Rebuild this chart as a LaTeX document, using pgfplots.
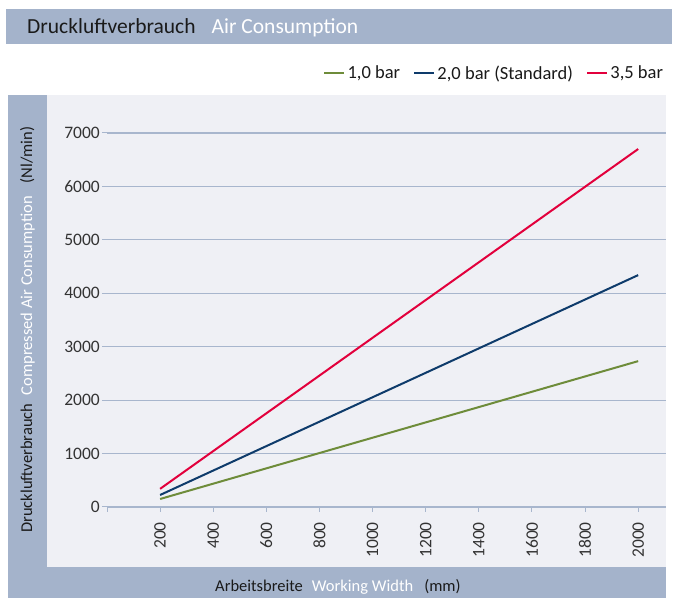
\documentclass[border=0pt]{standalone}
\usepackage{pgfplots}
\pgfplotsset{compat=1.18}
\usepackage{fontspec}
\setmainfont{Carlito}
\definecolor{band}{HTML}{A4B3CB}
\definecolor{plotbg}{HTML}{EFF0F5}
\definecolor{gridc}{HTML}{A8B6CD}
\definecolor{cgreen}{HTML}{6E8C3A}
\definecolor{cblue}{HTML}{0E3B6B}
\definecolor{cred}{HTML}{E2003C}
\definecolor{txt}{HTML}{1A1A1A}
\definecolor{ticktxt}{HTML}{333333}
\begin{document}
\begin{tikzpicture}[x=1pt,y=1pt]
\fill[white] (0,0) rectangle (680,599);
% header
\fill[band] (6,555) rectangle (672,590);
\node[anchor=base west,inner sep=0,font=\fontsize{21.5}{24}\selectfont,text=txt] at (27,565) {Druckluftverbrauch\hspace{0.75em}\textcolor{white}{Air Consumption}};
% frame
\fill[plotbg] (47,32) rectangle (666,504);
\fill[band] (8,1) rectangle (47,504);
\fill[band] (8,1) rectangle (666,32);
\node[rotate=90,anchor=south west,inner sep=0,font=\fontsize{16.5}{19}\selectfont,text=txt] at (35,66) {Druckluftverbrauch\hspace{0.5em}\textcolor{white}{Compressed Air Consumption}\hspace{0.8em}(Nl/min)};
\node[anchor=base west,inner sep=0,font=\fontsize{16.5}{19}\selectfont,text=txt] at (215,7) {Arbeitsbreite\hspace{0.55em}\textcolor{white}{Working Width}\hspace{0.67em}(mm)};
\begin{axis}[
  at={(107pt,92pt)}, anchor=south west,
  scale only axis, width=558.8pt, height=412pt,
  xmin=0, xmax=2104, ymin=0, ymax=7711,
  axis x line*=bottom, axis y line*=left,
  x axis line style={draw=gridc, line width=1.2pt, -},
  y axis line style={draw=none},
  xtick={0,200,...,2000},
  xticklabels={,200,400,600,800,1000,1200,1400,1600,1800,2000},
  ytick={0,1000,...,7000},
  ymajorgrids, grid style={draw=gridc, line width=1.1pt},
  tick style={draw=gridc, line width=1pt},
  major tick length=5pt,
  xtick pos=bottom, ytick pos=left,
  tick align=outside,
  /pgf/number format/1000 sep={},
  /pgf/number format/assume math mode=true,
  tick label style={font=\fontsize{17.5}{20}\selectfont, text=ticktxt},
  xticklabel style={rotate=90, anchor=east, inner sep=0pt, xshift=-10pt},
  yticklabel style={anchor=east, inner sep=0pt, xshift=-2pt},
  legend style={at={(1.0043,1.053)}, anchor=east, draw=none, fill=none,
    legend columns=3, font=\fontsize{18.5}{22}\selectfont, text=txt,
    /tikz/every even column/.append style={column sep=11pt}},
  legend image code/.code={\draw[#1, line width=2.4pt] (0pt,0pt) -- (20pt,0pt);},
]
\addplot[cgreen, line width=2pt] coordinates {(200,150) (2000,2730)};
\addlegendentry{1,0 bar}
\addplot[cblue, line width=2pt] coordinates {(200,225) (2000,4340)};
\addlegendentry{2,0 bar (Standard)}
\addplot[cred, line width=2pt] coordinates {(200,340) (2000,6700)};
\addlegendentry{3,5 bar}
\end{axis}
\end{tikzpicture}
\end{document}
